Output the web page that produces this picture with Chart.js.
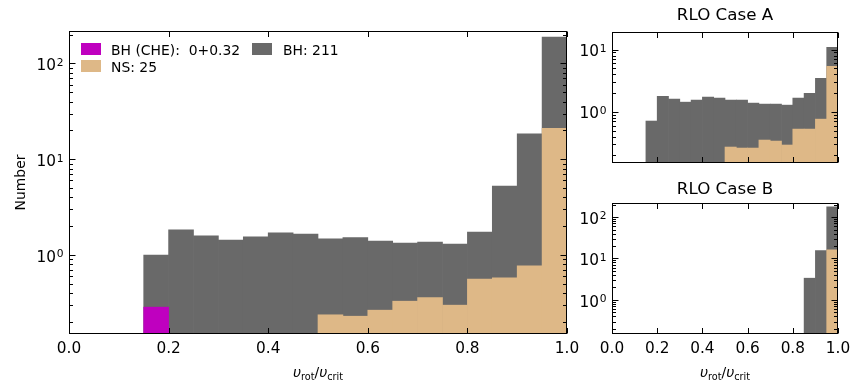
<!DOCTYPE html>
<html><head><meta charset="utf-8">
<script src="https://cdn.jsdelivr.net/npm/chart.js@4"></script>
<style>
html,body{margin:0;padding:0;background:#fff;}
#wrap{position:relative;width:864px;height:384px;overflow:hidden;font-family:"DejaVu Sans";background:#fff;}
canvas{position:absolute;}
.lab{position:absolute;font-family:"DejaVu Sans";font-size:13.9px;color:#000;white-space:pre;line-height:16px;}
.sw{position:absolute;width:20px;height:12px;}
.xl{position:absolute;font-family:"DejaVu Sans";font-size:13.9px;color:#000;white-space:nowrap;line-height:16px;transform:translateX(-50%);}
.xl i{font-style:oblique;}
.xl span{font-size:9.7px;position:relative;top:2.5px;}
</style></head><body>
<div id="wrap">
<canvas id="cMain" width="590" height="384" style="left:0px;top:0px"></canvas>
<canvas id="cA" width="304" height="175" style="left:560px;top:0px"></canvas>
<canvas id="cB" width="304" height="209" style="left:560px;top:175px"></canvas>
<div class="sw" style="left:81px;top:43px;background:#BF00BF"></div>
<div class="lab" style="left:111px;top:42px">BH (CHE):  0+0.32</div>
<div class="sw" style="left:81px;top:60px;background:#DEB887"></div>
<div class="lab" style="left:111px;top:59px">NS: 25</div>
<div class="sw" style="left:252px;top:43px;background:#696969"></div>
<div class="lab" style="left:283px;top:42px">BH: 211</div>
<div class="xl" style="left:318px;top:364px"><i>υ</i><span>rot</span>/<i>υ</i><span>crit</span></div>
<div class="xl" style="left:725px;top:364px"><i>υ</i><span>rot</span>/<i>υ</i><span>crit</span></div>
</div>
<script>
// ---- data ----
const binCenters = [0.025,0.075,0.125,0.175,0.225,0.275,0.325,0.375,0.425,0.475,0.525,0.575,0.625,0.675,0.725,0.775,0.825,0.875,0.925,0.975];
// main panel: grey bar heights (BH stacked on NS), NS heights, BH (CHE)
const mainBH  = [null,null,null,1.00,1.83,1.59,1.43,1.55,1.71,1.66,1.48,1.52,1.40,1.33,1.37,1.30,1.74,5.26,18.4,188];
const mainNS  = [null,null,null,null,null,null,null,null,null,null,0.238,0.230,0.266,0.330,0.360,0.300,0.560,0.580,0.770,21.0];
const mainCHE = [null,null,null,0.286,null,null,null,null,null,null,null,null,null,null,null,null,null,null,null,null];
// RLO Case A
const caseABH = [null,null,null,0.71,1.78,1.60,1.43,1.54,1.72,1.66,1.54,1.54,1.38,1.33,1.33,1.28,1.66,1.99,3.47,10.9];
const caseANS = [null,null,null,null,null,null,null,null,null,null,0.271,0.261,0.261,0.351,0.338,0.292,0.527,0.527,0.762,5.40];
// RLO Case B
const caseBBH = [null,null,null,null,null,null,null,null,null,null,null,null,null,null,null,null,null,3.34,15.5,176];
const caseBNS = [null,null,null,null,null,null,null,null,null,null,null,null,null,null,null,null,null,null,null,16.1];
// ticks
const xTickValues = [0,0.2,0.4,0.6,0.8,1.0];
const xTickLabels = ['0.0','0.2','0.4','0.6','0.8','1.0'];
const yTickValues = [1,10,100];
const yTickExp = ['0','1','2'];

const GREY='#696969', TAN='#DEB887', MAG='#BF00BF';
Chart.defaults.font.family = 'DejaVu Sans';
Chart.defaults.color = '#000';

function pts(arr){ return binCenters.map((c,i)=>({x:c,y:arr[i]})); }
function ds(label,arr,color,order){
  return {label,data:pts(arr),backgroundColor:color,borderWidth:0,barPercentage:1,categoryPercentage:1,grouped:false,order};
}

const frameTicks = {
  id:'frameTicks',
  afterDatasetsDraw(chart){
    const {ctx, chartArea:a, scales:{x,y}} = chart;
    ctx.save();
    ctx.strokeStyle='#000'; ctx.lineWidth=1;
    const L=Math.round(a.left)+0.5, R=Math.round(a.right)-0.5, T=Math.round(a.top)+0.5, B=Math.round(a.bottom)-0.5;
    ctx.beginPath();
    xTickValues.forEach(v=>{
      const px=Math.round(x.getPixelForValue(v))+0.5;
      ctx.moveTo(px,B); ctx.lineTo(px,B-5.5);
      ctx.moveTo(px,T); ctx.lineTo(px,T+5.5);
    });
    for(let e=-1;e<=3;e++){
      for(let m=1;m<=9;m++){
        const v=m*Math.pow(10,e);
        if(v<y.min||v>y.max) continue;
        const py=Math.round(y.getPixelForValue(v))+0.5;
        const len=(m===1)?6:3.5;
        ctx.moveTo(L,py); ctx.lineTo(L+len,py);
        ctx.moveTo(R,py); ctx.lineTo(R-len,py);
      }
    }
    ctx.stroke();
    ctx.strokeRect(L,T,R-L,B-T);
    // y tick labels as 10^n with a real superscript
    ctx.fillStyle='#000';
    yTickValues.forEach((v,i)=>{
      if(v<y.min||v>y.max) return;
      const py=y.getPixelForValue(v);
      ctx.font='10.7px "DejaVu Sans"';
      ctx.textAlign='right'; ctx.textBaseline='alphabetic';
      const ew=ctx.measureText(yTickExp[i]).width;
      const xr=a.left-5.5;
      ctx.fillText(yTickExp[i],xr,py+2.4);
      ctx.font='15.3px "DejaVu Sans"';
      ctx.fillText('10',xr-ew-0.8,py+6.7);
    });
    ctx.restore();
  }
};

function xScale(showLabels,h){
  return {type:'linear',min:0,max:1,offset:false,
    afterBuildTicks:s=>{s.ticks=xTickValues.map(v=>({value:v}));},
    ticks:{display:showLabels,autoSkip:false,maxRotation:0,padding:6,font:{size:15.3},color:'#000',
      callback:(v)=>{const i=xTickValues.findIndex(t=>Math.abs(t-v)<1e-9);return i<0?'':xTickLabels[i];}},
    grid:{display:false,drawTicks:false},border:{display:false},
    afterFit:s=>{s.height=h;}
  };
}
function yScale(min,max,w,title){
  return {type:'logarithmic',min,max,
    afterBuildTicks:s=>{s.ticks=yTickValues.filter(v=>v>=min&&v<=max).map(v=>({value:v}));},
    ticks:{display:false},
    grid:{display:false,drawTicks:false},border:{display:false},
    title: title?{display:true,text:title,font:{size:13.9},color:'#000',padding:{top:13,bottom:0}}:{display:false},
    afterFit:s=>{s.width=w;}
  };
}
function common(extra){
  return Object.assign({responsive:false,animation:false,devicePixelRatio:1,events:[],
    plugins:{legend:{display:false},tooltip:{enabled:false}}},extra);
}

new Chart(document.getElementById('cMain'),{
  type:'bar',
  data:{datasets:[ds('BH: 211',mainBH,GREY,2),ds('NS: 25',mainNS,TAN,1),ds('BH (CHE):  0+0.32',mainCHE,MAG,0)]},
  options:common({
    layout:{padding:{left:0,top:31,right:23,bottom:0}},
    scales:{x:xScale(true,50),y:yScale(0.15,218,69,'Number')}
  }),
  plugins:[frameTicks]
});

new Chart(document.getElementById('cA'),{
  type:'bar',
  data:{datasets:[ds('BH',caseABH,GREY,2),ds('NS',caseANS,TAN,1)]},
  options:common({
    layout:{padding:{left:0,top:0,right:26,bottom:0}},
    plugins:{legend:{display:false},tooltip:{enabled:false},
      title:{display:true,fullSize:false,text:'RLO Case A',font:{size:16.7,weight:'normal'},color:'#000',padding:{top:6,bottom:6}}},
    scales:{x:xScale(false,12),y:yScale(0.15,19.2,52,null)}
  }),
  plugins:[frameTicks]
});

new Chart(document.getElementById('cB'),{
  type:'bar',
  data:{datasets:[ds('BH',caseBBH,GREY,2),ds('NS',caseBNS,TAN,1)]},
  options:common({
    layout:{padding:{left:0,top:0,right:26,bottom:0}},
    plugins:{legend:{display:false},tooltip:{enabled:false},
      title:{display:true,fullSize:false,text:'RLO Case B',font:{size:16.7,weight:'normal'},color:'#000',padding:{top:4.5,bottom:3.5}}},
    scales:{x:xScale(true,50),y:yScale(0.15,218,52,null)}
  }),
  plugins:[frameTicks]
});
</script>
</body></html>
